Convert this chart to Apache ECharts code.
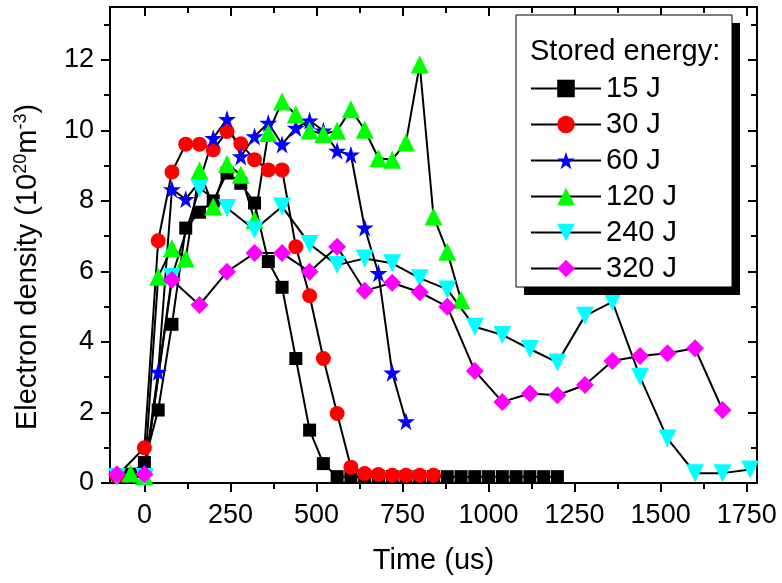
<!DOCTYPE html>
<html>
<head>
<meta charset="utf-8">
<script src="https://cdn.jsdelivr.net/npm/echarts@6/dist/echarts.min.js"></script>
<style>
html,body{margin:0;padding:0;background:#fff}
#main{width:782px;height:583px}
</style>
</head>
<body>
<div id="main"></div>
<script>
// tick labels
const xMajor = [0, 250, 500, 750, 1000, 1250, 1500, 1750];
const xMinor = [125, 375, 625, 875, 1125, 1375, 1625];
const yMajor = [0, 2, 4, 6, 8, 10, 12];
const yMinor = [1, 3, 5, 7, 9, 11, 13];

// 15 J
const t15 = [-40, 0, 40, 80, 120, 160, 200, 240, 280, 320, 360, 400, 440, 480, 520, 560, 600, 640, 680, 720, 760, 800, 840, 880, 920, 960, 1000, 1040, 1080, 1120, 1160, 1200];
const v15 = [0.25, 0.58, 2.07, 4.5, 7.23, 7.68, 8.0, 8.79, 8.5, 7.94, 6.28, 5.55, 3.53, 1.5, 0.55, 0.18, 0.18, 0.18, 0.18, 0.18, 0.18, 0.18, 0.18, 0.18, 0.18, 0.18, 0.18, 0.18, 0.18, 0.18, 0.18, 0.18];
// 30 J
const t30 = [-80, 0, 40, 80, 120, 160, 200, 240, 280, 320, 360, 400, 440, 480, 520, 560, 600, 640, 680, 720, 760, 800, 840];
const v30 = [0.2, 1.0, 6.87, 8.82, 9.61, 9.61, 9.45, 9.97, 9.62, 9.17, 8.88, 8.88, 6.7, 5.31, 3.53, 1.97, 0.45, 0.27, 0.24, 0.22, 0.22, 0.22, 0.22];
// 60 J
const t60 = [-40, 0, 40, 80, 120, 160, 200, 240, 280, 320, 360, 400, 440, 480, 520, 560, 600, 640, 680, 720, 760];
const v60 = [0.2, 0.3, 3.15, 8.33, 8.05, 8.55, 9.78, 10.32, 9.26, 9.83, 10.21, 9.6, 10.07, 10.28, 9.99, 9.42, 9.31, 7.24, 5.95, 3.13, 1.75];
// 120 J
const t120 = [-40, 0, 40, 80, 120, 160, 200, 240, 280, 320, 360, 400, 440, 480, 520, 560, 600, 640, 680, 720, 760, 800, 840, 880, 920];
const v120 = [0.27, 0.2, 5.85, 6.66, 6.37, 8.86, 7.84, 9.05, 8.74, 7.46, 9.93, 10.82, 10.45, 10.0, 9.9, 9.99, 10.6, 10.02, 9.21, 9.17, 9.66, 11.87, 7.56, 6.56, 5.19];
// 240 J
const t240 = [-80, 0, 80, 160, 240, 320, 400, 480, 560, 640, 720, 800, 880, 960, 1040, 1120, 1200, 1280, 1360, 1440, 1520, 1600, 1680, 1760];
const v240 = [0.17, 0.17, 5.85, 8.36, 7.8, 7.18, 7.84, 6.78, 6.18, 6.37, 6.23, 5.81, 5.49, 4.43, 4.2, 3.8, 3.42, 4.74, 5.14, 3.01, 1.26, 0.28, 0.28, 0.38];
// 320 J
const t320 = [-80, 0, 80, 160, 240, 320, 400, 480, 560, 640, 720, 800, 880, 960, 1040, 1120, 1200, 1280, 1360, 1440, 1520, 1600, 1680];
const v320 = [0.25, 0.25, 5.76, 5.05, 5.99, 6.52, 6.52, 5.99, 6.7, 5.45, 5.68, 5.41, 5.0, 3.18, 2.3, 2.54, 2.49, 2.78, 3.46, 3.6, 3.68, 3.82, 2.07];

const names = ['15 J', '30 J', '60 J', '120 J', '240 J', '320 J'];
const colors = ['#000000', '#ff0000', '#0000ff', '#00ff00', '#00ffff', '#ff00ff'];

const FONT = 'Liberation Sans, Arial, sans-serif';
const STAR = 'path://M50,0 L61.2,34.5 L97.6,34.5 L68.2,55.9 L79.4,90.5 L50,69.1 L20.6,90.5 L31.8,55.9 L2.4,34.5 L38.8,34.5 Z';

const zip = (t, v) => t.map((x, i) => [x, v[i]]);

const mkSeries = (name, color, t, v, symbol, size, rotate) => ({
    name: name,
    type: 'line',
    data: zip(t, v),
    symbol: symbol,
    symbolSize: size,
    symbolRotate: rotate || 0,
    showAllSymbol: true,
    itemStyle: { color: color },
    lineStyle: { color: '#000', width: 2 },
    z: 2
});

const xAx = (pos, ticks, len, inside, line, label) => ({
    type: 'value', position: pos, min: -100, max: 1780,
    splitLine: { show: false },
    axisLine: { show: line, onZero: false, lineStyle: { color: '#000', width: 2 } },
    axisTick: { show: true, inside: inside, length: len, customValues: ticks, lineStyle: { color: '#000', width: 2 } },
    axisLabel: label ? { show: true, customValues: ticks, fontSize: 27, color: '#000', fontFamily: FONT, margin: 19, formatter: (v) => String(v) } : { show: false }
});
const yAx = (pos, ticks, len, inside, line, label) => ({
    type: 'value', position: pos, min: 0, max: 13.5,
    splitLine: { show: false },
    axisLine: { show: line, onZero: false, lineStyle: { color: '#000', width: 2 } },
    axisTick: { show: true, inside: inside, length: len, customValues: ticks, lineStyle: { color: '#000', width: 2 } },
    axisLabel: label ? { show: true, customValues: ticks, fontSize: 27, color: '#000', fontFamily: FONT, margin: 16, formatter: (v) => String(v) } : { show: false }
});

const xBottom = xAx('bottom', xMajor, 9, false, true, true);
xBottom.name = 'Time (us)';
xBottom.nameLocation = 'middle';
xBottom.nameGap = 63;
xBottom.nameTextStyle = { fontSize: 29, color: '#000', fontFamily: FONT };

const yLeft = yAx('left', yMajor, 9, false, true, true);
yLeft.name = '{a|Electron density (10}{s|20}{a|m}{s|-3}{a|)}';
yLeft.nameLocation = 'middle';
yLeft.nameRotate = 90;
yLeft.nameGap = 66;
yLeft.nameTextStyle = {
    color: '#000', fontFamily: FONT, fontSize: 29, padding: [0, 44, 0, 0],
    rich: {
        a: { fontSize: 29, color: '#000', fontFamily: FONT, lineHeight: 32 },
        s: { fontSize: 18, color: '#000', fontFamily: FONT, verticalAlign: 'top', lineHeight: 32 }
    }
};

const option = {
    animation: false,
    backgroundColor: '#fff',
    grid: { left: 110, right: 25, top: 7, bottom: 100, containLabel: false },
    xAxis: [
        xBottom,
        xAx('bottom', xMinor, 6, false, false, false),
        xAx('top', xMajor, 9, true, true, false),
        xAx('top', xMinor, 6, true, false, false)
    ],
    yAxis: [
        yLeft,
        yAx('left', yMinor, 6, false, false, false),
        yAx('right', yMajor, 9, true, true, false),
        yAx('right', yMinor, 6, true, false, false)
    ],
    legend: {
        orient: 'vertical', left: 530, top: 74, padding: 0,
        itemWidth: 70, itemHeight: 22, itemGap: 7, z: 60,
        lineStyle: { width: 2, color: '#000' },
        data: names,
        textStyle: { fontSize: 29, color: '#000', fontFamily: FONT }
    },
    graphic: [
        { type: 'rect', z: 50, shape: { x: 524, y: 23, width: 216, height: 272 }, style: { fill: '#000' } },
        { type: 'rect', z: 51, shape: { x: 516, y: 15, width: 216, height: 272 }, style: { fill: '#fff', stroke: '#000', lineWidth: 1 } },
        { type: 'text', z: 52, x: 530, y: 52, style: { text: 'Stored energy:', fill: '#000', font: '29px ' + FONT, verticalAlign: 'middle' } }
    ],
    series: [
        mkSeries(names[0], colors[0], t15, v15, 'rect', 13),
        mkSeries(names[1], colors[1], t30, v30, 'circle', 15),
        mkSeries(names[2], colors[2], t60, v60, STAR, 18),
        mkSeries(names[3], colors[3], t120, v120, 'triangle', 18),
        mkSeries(names[4], colors[4], t240, v240, 'triangle', 18, 180),
        mkSeries(names[5], colors[5], t320, v320, 'diamond', 18)
    ]
};

const chart = echarts.init(document.getElementById('main'));
chart.setOption(option);
</script>
</body>
</html>
